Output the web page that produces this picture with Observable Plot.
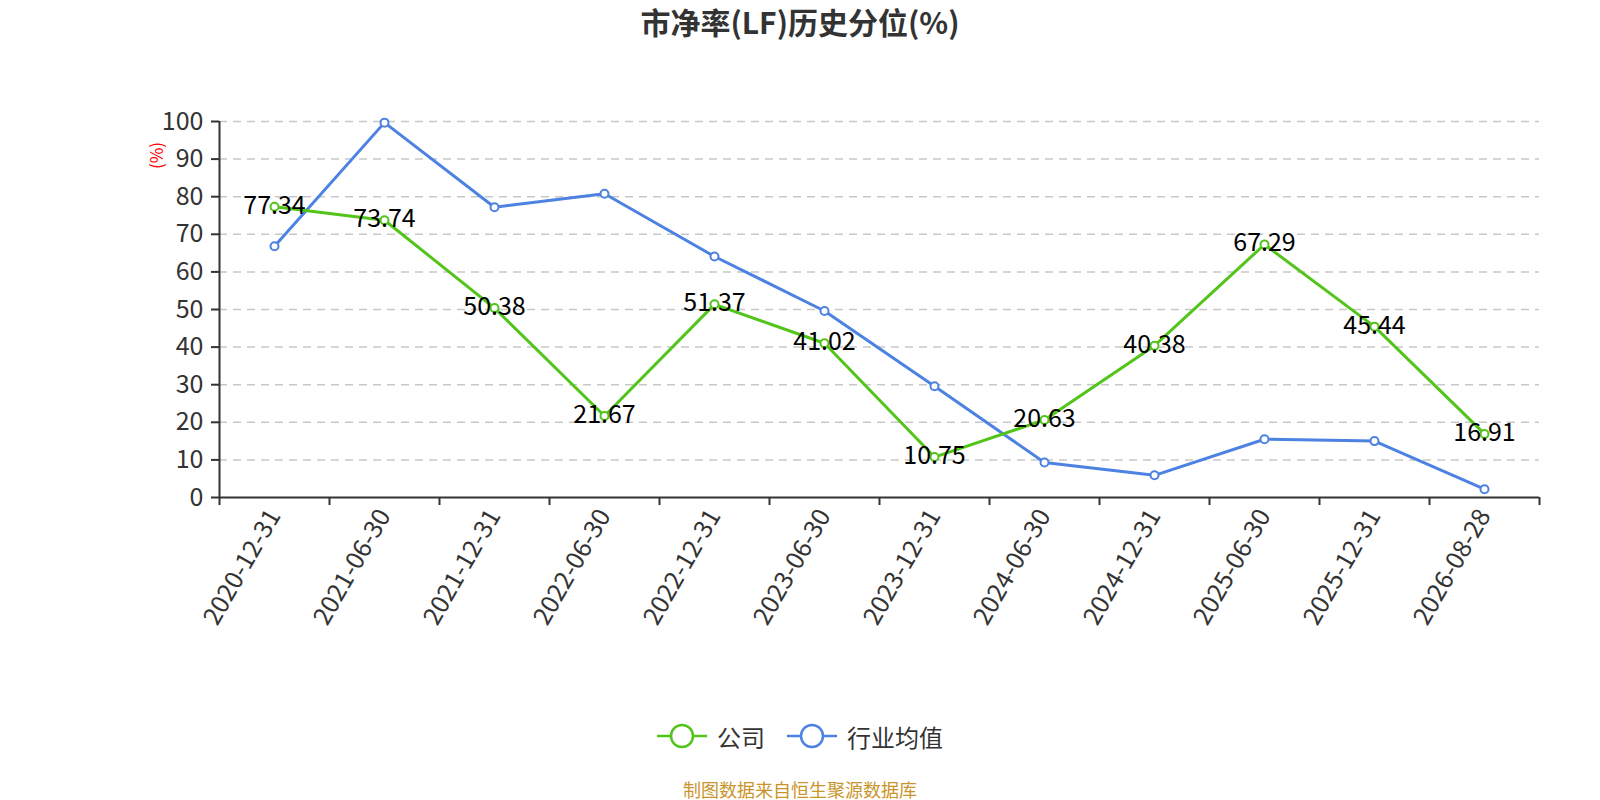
<!DOCTYPE html>
<html>
<head>
<meta charset="utf-8">
<script src="https://cdn.jsdelivr.net/npm/d3@7"></script>
<script src="https://cdn.jsdelivr.net/npm/@observablehq/plot@0.6"></script>
<style>
  html, body { margin: 0; padding: 0; background: #fff; }
  body { width: 1600px; height: 800px; overflow: hidden; font-family: "Noto Sans CJK SC", "Noto Sans", sans-serif; }
  #title { height: 46px; line-height: 42px; text-align: center; font-size: 30px; font-weight: bold; color: #333; }
  #chart svg { display: block; }
  #legend { height: 80px; display: flex; justify-content: center; align-items: center; gap: 22px; font-size: 24px; color: #333; }
  .item { display: flex; align-items: center; gap: 10px; }
  #source { height: 24px; line-height: 24px; text-align: center; font-size: 18px; color: #c9952b; margin-top: 1px; }
</style>
</head>
<body>
<div id="title">市净率(LF)历史分位(%)</div>
<div id="chart"></div>
<div id="legend"></div>
<div id="source">制图数据来自恒生聚源数据库</div>
<script>
const categories = ["2020-12-31","2021-06-30","2021-12-31","2022-06-30","2022-12-31","2023-06-30","2023-12-31","2024-06-30","2024-12-31","2025-06-30","2025-12-31","2026-08-28"];
const companyValues = [77.34, 73.74, 50.38, 21.67, 51.37, 41.02, 10.75, 20.63, 40.38, 67.29, 45.44, 16.91];
const industryValues = [66.8, 99.7, 77.2, 80.8, 64.1, 49.6, 29.6, 9.3, 5.9, 15.5, 15.0, 2.2];
const seriesNames = ["公司", "行业均值"];
const seriesColors = ["#52c41a", "#4d82e3"];
const yTicks = d3.range(0, 101, 10);

const company = categories.map((c, i) => ({i: i + 0.5, date: c, value: companyValues[i]}));
const industry = categories.map((c, i) => ({i: i + 0.5, date: c, value: industryValues[i]}));
const boundaries = d3.range(categories.length + 1);
const centers = categories.map((c, i) => i + 0.5);

const font = '"Noto Sans CJK SC", "Noto Sans", sans-serif';

const plot = Plot.plot({
  width: 1600,
  height: 650,
  marginLeft: 219,
  marginRight: 61,
  marginTop: 75,
  marginBottom: 199,
  style: {fontFamily: font, background: "#fff", overflow: "visible"},
  x: {type: "linear", domain: [0, categories.length]},
  y: {type: "linear", domain: [0, 100]},
  marks: [
    Plot.gridY(yTicks.filter(d => d > 0), {stroke: "#c8c8c8", strokeOpacity: 1, strokeWidth: 1.5, strokeDasharray: "8,6"}),
    Plot.ruleY([0], {stroke: "#333", strokeWidth: 2}),
    Plot.ruleX([0], {stroke: "#333", strokeWidth: 2}),
    Plot.axisY(yTicks, {tickSize: 8, tickPadding: 8, fontSize: 25, fill: "#333", stroke: "#333", strokeWidth: 2, label: null}),
    Plot.axisX(boundaries, {tickSize: 8, text: null, stroke: "#333", strokeWidth: 2, label: null}),
    Plot.axisX(centers, {tickSize: 0, tickPadding: 14, tickRotate: -60, fontSize: 25, fill: "#333", label: null,
      tickFormat: d => categories[Math.floor(d)]}),
    Plot.text(["(%)"], {frameAnchor: "top-left", dx: -62, dy: 34, rotate: -90, textAnchor: "middle", lineAnchor: "middle", fill: "red", fontSize: 17}),
    Plot.line(industry, {x: "i", y: "value", stroke: seriesColors[1], strokeWidth: 3}),
    Plot.line(company, {x: "i", y: "value", stroke: seriesColors[0], strokeWidth: 3}),
    Plot.dot(industry, {x: "i", y: "value", r: 4, fill: "#fff", stroke: seriesColors[1], strokeWidth: 2}),
    Plot.dot(company, {x: "i", y: "value", r: 4, fill: "#fff", stroke: seriesColors[0], strokeWidth: 2}),
    Plot.text(company, {x: "i", y: "value", text: d => d.value.toFixed(2), fontSize: 25, fill: "#000", dy: -1})
  ]
});
document.getElementById("chart").appendChild(plot);

const legend = document.getElementById("legend");
seriesNames.forEach((name, k) => {
  const item = document.createElement("div");
  item.className = "item";
  item.innerHTML = `<svg width="50" height="28"><line x1="0" y1="14" x2="50" y2="14" stroke="${seriesColors[k]}" stroke-width="2.5"/><circle cx="25" cy="14" r="11" fill="#fff" stroke="${seriesColors[k]}" stroke-width="2.5"/></svg><span>${name}</span>`;
  legend.appendChild(item);
});
</script>
</body>
</html>
